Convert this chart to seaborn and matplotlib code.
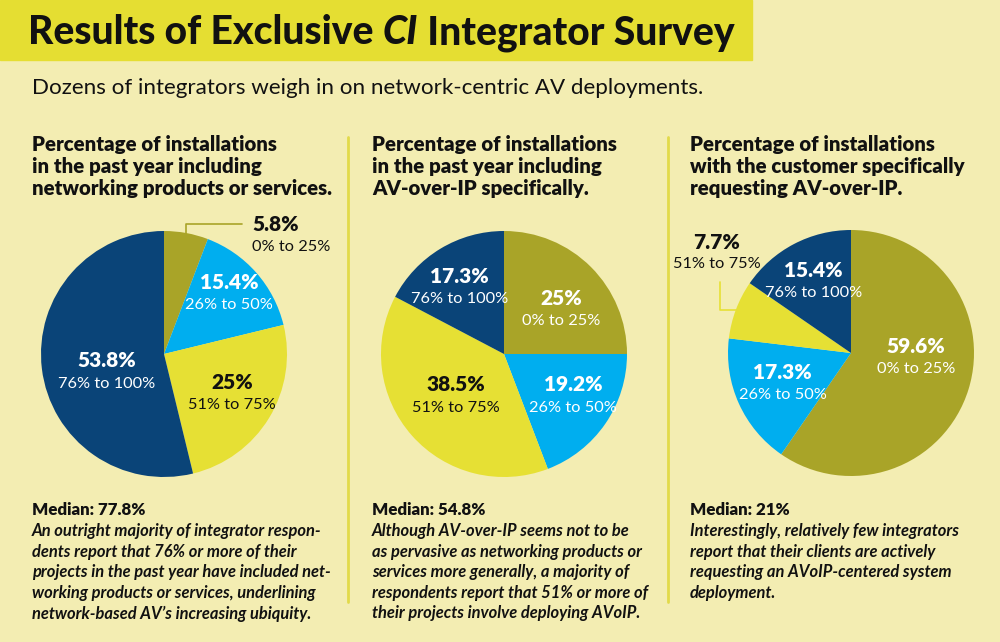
import numpy as np
import matplotlib.pyplot as plt
import seaborn as sns

# --- data ---
ranges = ["0% to 25%", "26% to 50%", "51% to 75%", "76% to 100%"]
networking = [5.8, 15.4, 25.0, 53.8]
avoip = [25.0, 19.2, 38.5, 17.3]
requested = [59.6, 17.3, 7.7, 15.4]
pct_labels = [["5.8%", "15.4%", "25%", "53.8%"],
              ["25%", "19.2%", "38.5%", "17.3%"],
              ["59.6%", "17.3%", "7.7%", "15.4%"]]
medians = ["Median: 77.8%", "Median: 54.8%", "Median: 21%"]

col_titles = [
    "Percentage of installations\nin the past year including\nnetworking products or services.",
    "Percentage of installations\nin the past year including\nAV-over-IP specifically.",
    "Percentage of installations\nwith the customer specifically\nrequesting AV-over-IP.",
]
notes = [
    ["An outright majority of integrator respon-",
     "dents report that 76% or more of their",
     "projects in the past year have included net-",
     "working products or services, underlining",
     "network-based AV\u2019s increasing ubiquity."],
    ["Although AV-over-IP seems not to be",
     "as pervasive as networking products or",
     "services more generally, a majority of",
     "respondents report that 51% or more of",
     "their projects involve deploying AVoIP."],
    ["Interestingly, relatively few integrators",
     "report that their clients are actively",
     "requesting an AVoIP-centered system",
     "deployment."],
]

# --- style ---
BG = "#F3EDB2"
BAND = "#E5DE32"
colors = ["#A9A428", "#00AEEF", "#E6E034", "#0A4478"]
text_on = ["white", "white", "#111111", "white"]
INK = "#111111"

sns.set_theme(style="white")
plt.rcParams["font.family"] = ["Lato", "DejaVu Sans"]

W, H = 1000, 642
fig = plt.figure(figsize=(W / 100, H / 100), dpi=100, facecolor=BG)
fig.canvas.draw()
rend = fig.canvas.get_renderer()


def fx(x):
    return x / W


def fy(y):
    return 1 - y / H


def width_px(t):
    return t.get_window_extent(rend).width


# title band
fig.patches.append(plt.Rectangle((0, fy(60)), fx(752), 60 / H, transform=fig.transFigure,
                                 color=BAND, zorder=0))

# title in three pieces (CI in italics), fitted to the reference width
title_parts = [("Results of Exclusive ", "normal"), ("CI", "italic"), (" Integrator Survey", "normal")]
fs = 28
probe = [fig.text(0, 0, s, fontsize=fs, fontweight=900, style=st) for s, st in title_parts]
total = sum(width_px(p) for p in probe)
for p in probe:
    p.remove()
fs = fs * 707 / total
xcur = 28
for s, st in title_parts:
    t = fig.text(fx(xcur), fy(33), s, fontsize=fs, fontweight=900, style=st,
                 va="center", ha="left", color=INK)
    xcur += width_px(t)

sub = fig.text(fx(32), fy(88), "Dozens of integrators weigh in on network-centric AV deployments.",
               fontsize=16, va="center", ha="left", color=INK)
sub.set_fontsize(16 * 673 / width_px(sub))

# separators
for sx in (348, 668):
    fig.add_artist(plt.Line2D([fx(sx), fx(sx)], [fy(137), fy(602)], color="#E2DA4A", lw=2))

col_x = [32, 372, 690]
centers = [(164, 354), (504, 354), (851, 353)]
R = 123
series = [networking, avoip, requested]
label_r = [[None, 0.72, 0.64, 0.49], [0.59, 0.66, 0.52, 0.65], [0.53, 0.61, None, 0.65]]
label_nudge = [[0, 1, 1, 11], [-7.5, 3, 0, 3], [13, 0, 0, 0]]
PCT_FS, RNG_FS = 15, 11.8

for i in range(3):
    # column title
    fig.text(fx(col_x[i]), fy(135), col_titles[i], fontsize=14.7, fontweight="heavy",
             va="top", ha="left", color=INK, linespacing=1.18)

    cx, cy = centers[i]
    ax = fig.add_axes([fx(cx - R), fy(cy + R), 2 * R / W, 2 * R / H])
    ax.set_facecolor("none")
    wedges, _ = ax.pie(series[i], colors=colors, startangle=90, counterclock=False,
                       radius=1, wedgeprops=dict(linewidth=0))
    ax.set_xlim(-1, 1)
    ax.set_ylim(-1, 1)
    ax.axis("off")

    for j, w in enumerate(wedges):
        rr = label_r[i][j]
        if rr is None:
            continue
        ang = np.deg2rad((w.theta1 + w.theta2) / 2 + label_nudge[i][j])
        x, y = rr * np.cos(ang), rr * np.sin(ang)
        ax.text(x, y + 0.095, pct_labels[i][j], ha="center", va="center", fontsize=PCT_FS,
                fontweight="heavy", color=text_on[j])
        ax.text(x, y - 0.09, ranges[j], ha="center", va="center", fontsize=RNG_FS,
                color=text_on[j])

    # bottom notes
    fig.text(fx(col_x[i]), fy(510), medians[i], fontsize=12.2,
             fontweight="heavy", va="center", ha="left", color=INK)
    for k, line in enumerate(notes[i]):
        fig.text(fx(col_x[i]), fy(531 + k * 20.6), line, fontsize=11.9, fontweight="bold",
                 style="italic", va="center", ha="left", color=INK)

# outside label: pie 1, slice 0
ax1 = fig.axes[0]
w0 = ax1.patches[0]
a0 = np.deg2rad((w0.theta1 + w0.theta2) / 2)
sx0, sy0 = 0.97 * np.cos(a0), 0.97 * np.sin(a0)
ax1.plot([sx0, sx0, 0.634], [sy0, 1.057, 1.057], color=colors[0], lw=1.2, clip_on=False)
ax1.text(0.715, 1.05, pct_labels[0][0], ha="left", va="center", fontsize=PCT_FS,
         fontweight="heavy", color=INK)
ax1.text(0.715, 0.87, ranges[0], ha="left", va="center", fontsize=RNG_FS, color=INK)

# outside label: pie 3, slice 2
ax3 = fig.axes[2]
w2 = ax3.patches[2]
a2 = np.deg2rad((w2.theta1 + w2.theta2) / 2)
sx2, sy2 = 0.99 * np.cos(a2), 0.99 * np.sin(a2)
ax3.plot([sx2, -1.065, -1.065], [sy2, sy2, 0.577], color=colors[2], lw=1.2, clip_on=False)
ax3.text(-1.09, 0.90, pct_labels[2][2], ha="center", va="center", fontsize=PCT_FS,
         fontweight="heavy", color=INK)
ax3.text(-1.09, 0.72, ranges[2], ha="center", va="center", fontsize=RNG_FS, color=INK)

fig.savefig("out.png", dpi=100, facecolor=BG)
